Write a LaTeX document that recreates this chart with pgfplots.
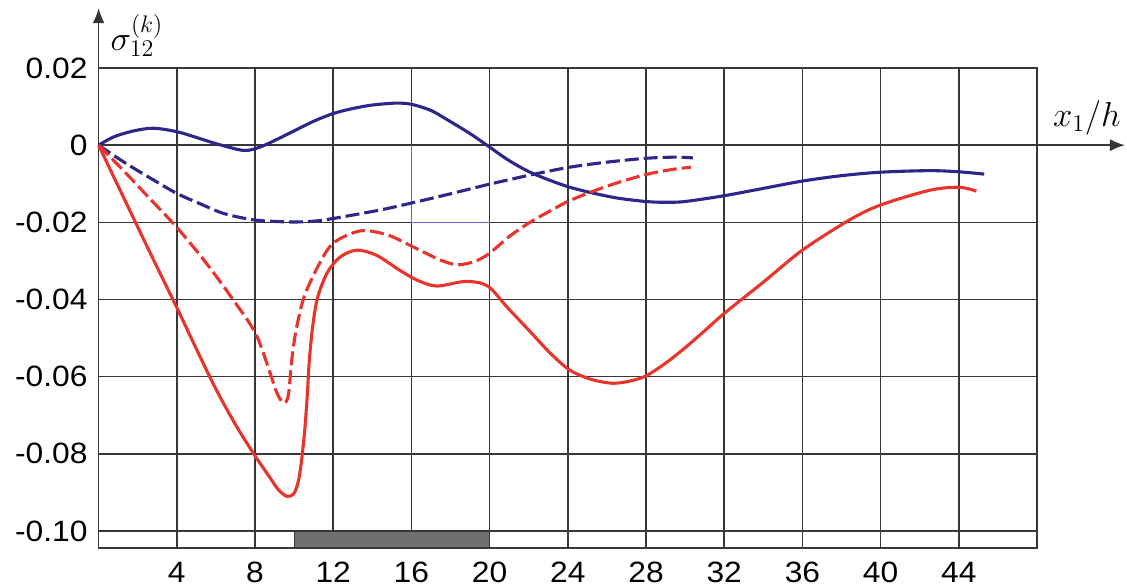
\documentclass[border=0pt]{standalone}
\usepackage{fontspec}
\setmainfont[FakeStretch=1.08]{Liberation Sans}
\usepackage{pgfplots}
\pgfplotsset{compat=1.18}
\usetikzlibrary{arrows.meta}
\definecolor{cblue}{RGB}{46,38,138}
\definecolor{cred}{RGB}{232,52,42}
\definecolor{cgrid}{RGB}{55,55,55}
\definecolor{cthin}{RGB}{110,95,200}
\definecolor{cbar}{RGB}{112,112,112}
\begin{document}
\begin{tikzpicture}
\begin{axis}[
  at={(0,0)}, anchor=south west,
  scale only axis, width=469.2pt, height=240pt,
  xmin=0, xmax=48, ymin=-0.1044, ymax=0.02,
  clip=false,
  xtick={4,8,12,16,20,24,28,32,36,40,44},
  xticklabels={4,8,12,16,20,24,28,32,36,40,44},
  ytick={-0.1,-0.08,-0.06,-0.04,-0.02,0,0.02},
  yticklabels={-0.10,-0.08,-0.06,-0.04,-0.02,0,0.02},
  major tick length=0pt,
  grid=major,
  grid style={cgrid, line width=0.75pt},
  axis line style={cgrid, line width=0.75pt},
  ticklabel style={font=\fontsize{14.7}{16}\selectfont, text=black},
  xticklabel style={yshift=-3.5pt},
  yticklabel style={xshift=-2pt},
  scaled y ticks=false,
]
% bottom strip bar
\addplot[draw=cgrid, fill=cbar, line width=0.6pt] coordinates {(10,-0.1044) (20,-0.1044) (20,-0.1) (10,-0.1)} -- cycle;
% thin lines
\addplot[cthin, line width=0.45pt] coordinates {(16,0) (16,-0.02) (20,-0.02)};

% blue solid
\addplot[cblue, line width=1.55pt, smooth, tension=0.5] coordinates {
(0,0) (0.8,0.0022) (1.8,0.0037) (2.8,0.0044) (4,0.0035) (5,0.0020) (6,0.0004)
(7.2,-0.0012) (7.7,-0.0013) (8.3,-0.0004) (9,0.0012) (10,0.0037) (11,0.0062)
(12,0.0082) (13,0.0095) (14,0.0104) (15.2,0.0109) (16,0.0106) (17,0.0090)
(17.8,0.0067) (19,0.0030) (20,-0.0005) (21,-0.0040) (22.2,-0.0073) (24.1,-0.0109)
(26.3,-0.0135) (28,-0.0146) (29,-0.0148) (30,-0.0146) (32,-0.0131) (34,-0.0112)
(36,-0.0093) (38,-0.0079) (40,-0.0070) (42.5,-0.0066) (44,-0.0069) (45.3,-0.0075)};

% blue dashed
\addplot[cblue, line width=1.55pt, smooth, tension=0.5, dash pattern=on 7pt off 2.5pt] coordinates {
(0,0) (1.3,-0.0044) (2.7,-0.0087) (4,-0.0125) (5.2,-0.0152) (6.4,-0.0177) (8,-0.0194)
(9.8,-0.0199) (11,-0.0197) (12,-0.0190) (14.4,-0.0168) (16,-0.0150) (18,-0.0126)
(20,-0.0101) (22.2,-0.0076) (24.1,-0.0057) (26,-0.0044) (28,-0.0034) (29.5,-0.0031) (30.4,-0.0033)};

% red solid
\addplot[cred, line width=1.55pt, smooth, tension=0.5] coordinates {
(0,0) (1,-0.0106) (2,-0.0212) (3,-0.0317) (4,-0.0421) (5,-0.0528) (6,-0.0632)
(7,-0.0724) (8,-0.0805) (8.77,-0.0862) (9.2,-0.0893) (9.62,-0.0910) (9.95,-0.0905)
(10.15,-0.0884) (10.3,-0.0848) (10.42,-0.0800) (10.56,-0.0730) (10.68,-0.0643)
(10.78,-0.0557) (10.95,-0.0470) (11.2,-0.0395) (11.7,-0.0330) (12.35,-0.0290)
(13.2,-0.0272) (14.2,-0.0285) (15.4,-0.0324) (16.3,-0.0350) (17.3,-0.0365)
(18.8,-0.0353) (19.9,-0.0365) (20.9,-0.0420) (22.2,-0.0490) (23.1,-0.0539)
(24.1,-0.0583) (25.2,-0.0607) (26.3,-0.0617) (27.2,-0.0611) (28,-0.0598) (29,-0.0565)
(30,-0.0525) (31,-0.0481) (32,-0.0436) (34,-0.0355) (36,-0.0272) (38.4,-0.0194)
(40,-0.0155) (42.5,-0.0117) (44,-0.0109) (44.9,-0.0119)};

% red dashed
\addplot[cred, line width=1.55pt, smooth, tension=0.5, dash pattern=on 7pt off 2.5pt] coordinates {
(0,0) (1.2,-0.0062) (2.5,-0.0132) (4,-0.0213) (5.5,-0.0305) (6.9,-0.0402)
(8.03,-0.0488) (8.77,-0.0590) (9.1,-0.0640) (9.45,-0.0668) (9.7,-0.0650) (9.88,-0.0557)
(10.1,-0.0480) (10.5,-0.0395) (11.2,-0.0316) (12,-0.0254) (13.4,-0.0222) (14.8,-0.0233)
(16.1,-0.0264) (17.5,-0.0298) (18.4,-0.0310) (19.3,-0.0300) (20,-0.0280) (21,-0.0237)
(22,-0.0202) (23,-0.0173) (24,-0.0146) (25.1,-0.0123) (26.5,-0.0098) (28,-0.0076)
(29.2,-0.0064) (30.3,-0.0057)};

% axis arrows
\draw[cgrid, line width=0.75pt, -{Latex[length=7.5pt,width=6pt]}] (axis cs:48,0) -- (axis cs:52.5,0);
\draw[cgrid, line width=0.75pt, -{Latex[length=7.5pt,width=6pt]}] (axis cs:0,0.02) -- (axis cs:0,0.0355);
% axis labels
\node at (axis cs:1.96,0.0284) {\fontsize{17}{20}\selectfont $\sigma_{12}^{(k)}$};
\node at (axis cs:50.55,0.0071) {\fontsize{16.5}{20}\selectfont $x_1/h$};
\end{axis}
\pgfresetboundingbox
\path (-49.3pt,-19pt) rectangle (514.2pt,274pt);
\end{tikzpicture}
\end{document}
